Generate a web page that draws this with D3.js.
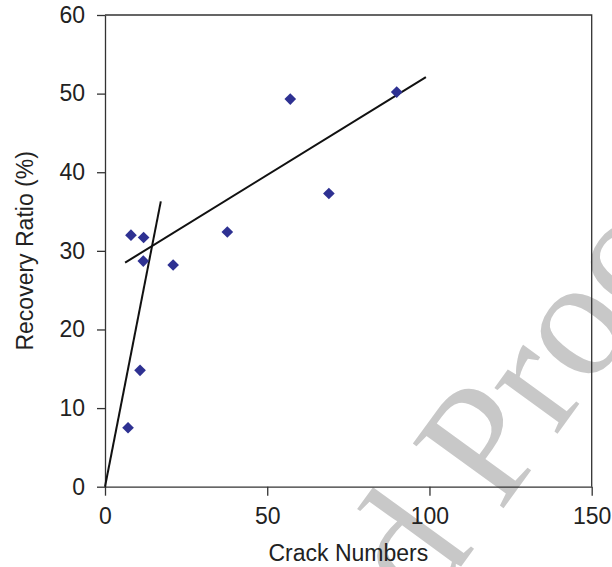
<!DOCTYPE html>
<html>
<head>
<meta charset="utf-8">
<style>
  body { margin: 0; background: #fff; }
  svg { display: block; }
  .axis text { font-family: "Liberation Sans", Arial, sans-serif; font-size: 23px; fill: #222; }
  .axis path, .axis line { stroke: #333; stroke-width: 1.3; }
</style>
</head>
<body>
<div id="chart"></div>
<script src="https://cdn.jsdelivr.net/npm/d3@7"></script>
<script>
// crack numbers vs recovery ratio
var crackNumbers  = [7.1, 8.0, 10.8, 11.8, 11.9, 21.0, 37.7, 57.1, 69.0, 89.9];
var recoveryRatio = [7.5, 32.0, 14.8, 28.7, 31.7, 28.2, 32.4, 49.3, 37.3, 50.2];

// the two fitted lines (start and end points)
var steepLineX = [0, 17.2];
var steepLineY = [0, 36.3];
var flatLineX  = [6.2, 98.9];
var flatLineY  = [28.5, 52.1];

var xTicks = [0, 50, 100, 150];
var yTicks = [0, 10, 20, 30, 40, 50, 60];

var width = 612, height = 567;
var margin = { top: 15, right: 20.3, bottom: 80.3, left: 105 };

var svg = d3.select("#chart").append("svg")
    .attr("width", width)
    .attr("height", height);

// watermark behind the chart
var wm = svg.append("g")
    .attr("transform", "translate(500,513) rotate(-54)")
    .style("font-family", "Liberation Serif, Times New Roman, serif")
    .style("font-size", "170px")
    .style("fill", "#c8c8c8");
wm.append("text").attr("text-anchor", "start").text("Proof");
wm.append("text").attr("text-anchor", "end").attr("x", -42).text("Uncorrected");

var x = d3.scaleLinear().domain([0, 150]).range([margin.left, width - margin.right]);
var y = d3.scaleLinear().domain([0, 60]).range([height - margin.bottom, margin.top]);

// frame (top + right)
svg.append("path")
    .attr("d", "M" + x(0) + "," + y(60) + "H" + x(150) + "V" + y(0))
    .attr("fill", "none")
    .attr("stroke", "#333")
    .attr("stroke-width", 1.3);

svg.append("g")
    .attr("class", "axis")
    .attr("transform", "translate(0," + y(0) + ")")
    .call(d3.axisBottom(x).tickValues(xTicks).tickFormat(d3.format("d")).tickSize(9).tickSizeOuter(0).tickPadding(12));

svg.append("g")
    .attr("class", "axis")
    .attr("transform", "translate(" + x(0) + ",0)")
    .call(d3.axisLeft(y).tickValues(yTicks).tickFormat(d3.format("d")).tickSize(8).tickSizeOuter(0).tickPadding(12));

// axis titles
svg.append("text")
    .attr("x", (x(0) + x(150)) / 2)
    .attr("y", 561)
    .attr("text-anchor", "middle")
    .style("font-family", "Liberation Sans, Arial, sans-serif")
    .style("font-size", "23px")
    .style("fill", "#222")
    .text("Crack Numbers");

svg.append("text")
    .attr("transform", "translate(32.5," + (y(0) + y(60)) / 2 + ") rotate(-90)")
    .attr("text-anchor", "middle")
    .style("font-family", "Liberation Sans, Arial, sans-serif")
    .style("font-size", "23px")
    .style("fill", "#222")
    .text("Recovery Ratio (%)");

// fitted lines
var line = d3.line().x(function (d) { return x(d[0]); }).y(function (d) { return y(d[1]); });
svg.append("path")
    .attr("d", line(d3.zip(steepLineX, steepLineY)))
    .attr("fill", "none").attr("stroke", "#111").attr("stroke-width", 2);
svg.append("path")
    .attr("d", line(d3.zip(flatLineX, flatLineY)))
    .attr("fill", "none").attr("stroke", "#111").attr("stroke-width", 2);

// diamond markers
var diamond = d3.symbol().type(d3.symbolSquare).size(68);
svg.selectAll(".pt")
    .data(d3.zip(crackNumbers, recoveryRatio))
    .enter().append("path")
    .attr("class", "pt")
    .attr("d", diamond)
    .attr("transform", function (d) { return "translate(" + x(d[0]) + "," + y(d[1]) + ") rotate(45)"; })
    .attr("fill", "#2e3192");
</script>
</body>
</html>
